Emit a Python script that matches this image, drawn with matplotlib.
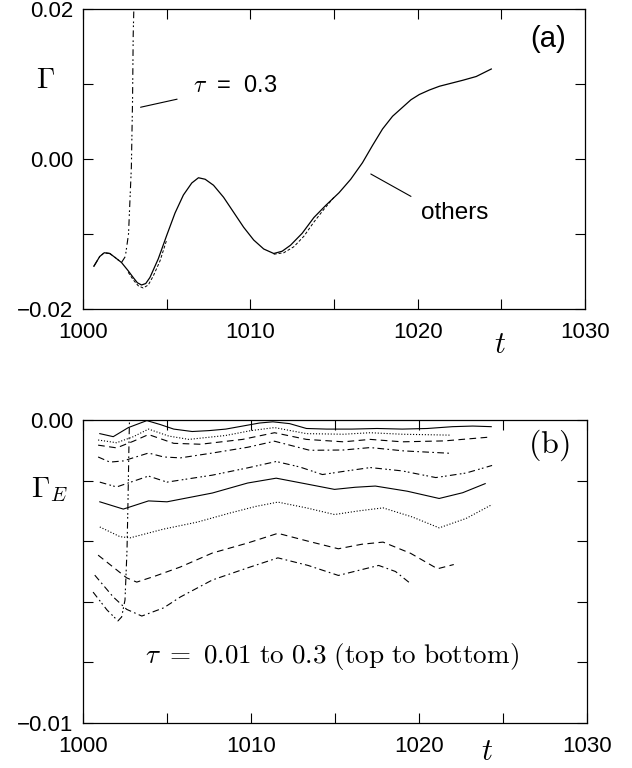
import matplotlib
matplotlib.use("Agg")
import matplotlib.pyplot as plt

plt.rcParams['font.family'] = ['Liberation Sans', 'DejaVu Sans']
plt.rcParams['mathtext.fontset'] = 'cm'

# ---------------- Panel (a) data ----------------
a_main_t = [1000.65, 1001.0, 1001.27, 1001.6, 1001.9, 1002.3, 1002.7, 1003.0, 1003.25, 1003.5,
            1003.75, 1004.0, 1004.5, 1005.0, 1005.5, 1006.0, 1006.5, 1006.9, 1007.3, 1007.8,
            1008.4, 1009.0, 1009.6, 1010.2, 1010.8, 1011.4, 1011.9, 1012.4, 1013.1, 1013.8,
            1014.5, 1015.3, 1016.0, 1016.7, 1017.3, 1017.9, 1018.5, 1019.1, 1019.6, 1020.1,
            1020.7, 1021.3, 1022.0, 1022.7, 1023.5, 1024.4]
a_main_g = [-0.0143, -0.0130, -0.0125, -0.0126, -0.0131, -0.0138, -0.0149, -0.0158, -0.0165, -0.0168,
            -0.0166, -0.0158, -0.0133, -0.0102, -0.0072, -0.0048, -0.0032, -0.0025, -0.0027, -0.0035,
            -0.0051, -0.0071, -0.0091, -0.0108, -0.0120, -0.0126, -0.0123, -0.0115, -0.0099, -0.0078,
            -0.0062, -0.0045, -0.0027, -0.0005, 0.0018, 0.0040, 0.0057, 0.0069, 0.0079, 0.0086,
            0.0092, 0.0097, 0.0101, 0.0105, 0.0110, 0.0120]
a_other1_t = [1002.7, 1003.0, 1003.3, 1003.6, 1003.9, 1004.2, 1004.6, 1005.0]
a_other1_g = [-0.0151, -0.0161, -0.0169, -0.0172, -0.0168, -0.0156, -0.0136, -0.0108]
a_other2_t = [1011.4, 1012.0, 1012.6, 1013.2, 1013.8, 1014.4, 1015.0]
a_other2_g = [-0.0127, -0.0125, -0.0117, -0.0103, -0.0084, -0.0067, -0.0051]
a_tau03_t = [1000.65, 1001.0, 1001.27, 1001.6, 1001.9, 1002.3, 1002.53, 1002.72, 1002.89, 1002.96,
             1003.0, 1003.06]
a_tau03_g = [-0.0143, -0.0130, -0.0125, -0.0126, -0.0131, -0.0138, -0.0130, -0.0100, -0.0011, 0.0077,
             0.0165, 0.0220]

# ---------------- Panel (b) data (tau = 0.01 ... 0.3, top to bottom) ----------------
b_t = [
    [1001.0, 1001.8, 1002.7, 1003.8, 1004.6, 1005.4, 1006.5, 1007.5, 1008.5, 1009.5, 1010.5, 1011.3,
     1012.3, 1013.3, 1014.5, 1016.0, 1017.5, 1019.0, 1020.5, 1022.0, 1023.2, 1024.3],
    [1000.9, 1002.0, 1003.0, 1003.9, 1005.1, 1006.3, 1008.5, 1010.0, 1011.4, 1013.3, 1015.5, 1017.1,
     1019.0, 1021.9],
    [1000.9, 1002.0, 1003.0, 1003.9, 1005.4, 1007.0, 1009.5, 1011.4, 1013.3, 1015.5, 1017.1, 1019.0,
     1021.5, 1024.3],
    [1000.9, 1001.6, 1002.4, 1003.9, 1004.8, 1005.8, 1007.7, 1009.8, 1011.4, 1013.5, 1015.5, 1017.1,
     1019.1, 1021.9],
    [1001.0, 1002.0, 1003.9, 1005.0, 1007.7, 1009.8, 1011.5, 1012.9, 1014.25, 1015.7, 1017.1, 1019.0,
     1021.0, 1022.8, 1024.35],
    [1001.0, 1002.4, 1003.9, 1005.0, 1007.7, 1009.8, 1011.5, 1013.2, 1014.97, 1016.2, 1017.4, 1019.3,
     1021.2, 1022.6, 1023.94],
    [1001.0, 1002.2, 1002.8, 1004.8, 1006.8, 1008.75, 1010.3, 1011.6, 1013.3, 1014.97, 1016.4, 1017.86,
     1019.6, 1021.2, 1022.8, 1024.35],
    [1000.9, 1002.6, 1003.2, 1004.3, 1005.8, 1007.7, 1009.8, 1011.6, 1013.4, 1015.2, 1016.6, 1017.86,
     1019.5, 1021.1, 1022.07],
    [1000.7, 1001.8, 1002.6, 1003.5, 1004.8, 1005.8, 1007.7, 1009.8, 1011.6, 1013.4, 1015.2, 1016.5,
     1017.6, 1018.6, 1019.5],
    [1000.6, 1001.43, 1002.08, 1002.3, 1002.5, 1002.62, 1002.68, 1002.74, 1002.78],
]
b_g = [
    [-0.00045, -0.00055, -0.00025, -0.00002, -0.00015, -0.00030, -0.00038, -0.00035, -0.00030, -0.00020,
     -0.00010, -0.00006, -0.00012, -0.00028, -0.00030, -0.00030, -0.00028, -0.00030, -0.00028, -0.00022,
     -0.00020, -0.00022],
    [-0.00066, -0.00075, -0.00055, -0.00030, -0.00053, -0.00064, -0.00051, -0.00035, -0.00025, -0.00045,
     -0.00047, -0.00042, -0.00047, -0.00050],
    [-0.00083, -0.00092, -0.00070, -0.00048, -0.00077, -0.00080, -0.00064, -0.00042, -0.00064, -0.00072,
     -0.00064, -0.00072, -0.00069, -0.00056],
    [-0.00122, -0.00139, -0.00135, -0.00109, -0.00122, -0.00125, -0.00109, -0.00090, -0.00070, -0.00100,
     -0.00099, -0.00091, -0.00102, -0.00110],
    [-0.00205, -0.00221, -0.00185, -0.00205, -0.00182, -0.00158, -0.00137, -0.00155, -0.00180, -0.00168,
     -0.00157, -0.00168, -0.00190, -0.00175, -0.00150],
    [-0.00270, -0.00294, -0.00267, -0.00270, -0.00241, -0.00208, -0.00192, -0.00210, -0.00229, -0.00222,
     -0.00218, -0.00235, -0.00259, -0.00240, -0.00210],
    [-0.00353, -0.00385, -0.00389, -0.00360, -0.00337, -0.00307, -0.00285, -0.00271, -0.00290, -0.00312,
     -0.00300, -0.00290, -0.00320, -0.00356, -0.00325, -0.00279],
    [-0.00446, -0.00521, -0.00535, -0.00515, -0.00485, -0.00439, -0.00406, -0.00374, -0.00400, -0.00425,
     -0.00410, -0.00403, -0.00440, -0.00491, -0.00477],
    [-0.00512, -0.00584, -0.00625, -0.00647, -0.00620, -0.00584, -0.00528, -0.00488, -0.00455, -0.00480,
     -0.00513, -0.00495, -0.00480, -0.00500, -0.00540],
    [-0.00568, -0.00627, -0.00663, -0.00650, -0.00594, -0.00429, -0.00264, -0.00066, 0.00030],
]
b_styles = ['-', ':', (0, (6, 4)), (0, (6, 3, 1.5, 3)), (0, (6, 3, 1.5, 2, 1.5, 3)),
            '-', ':', (0, (6, 4)), (0, (6, 3, 1.5, 3)), (0, (6, 3, 1.5, 2, 1.5, 3))]

x_ticks = [1000, 1005, 1010, 1015, 1020, 1025, 1030]
x_labels = ['1000', '', '1010', '', '1020', '', '1030']
a_yticks = [-0.02, -0.01, 0.0, 0.01, 0.02]
a_ylabels = ['\u22120.02', '', '0.00', '', '0.02']
b_yticks = [-0.01, -0.008, -0.006, -0.004, -0.002, 0.0]
b_ylabels = ['\u22120.01', '', '', '', '', '0.00']

fig = plt.figure(figsize=(6.32, 7.68), dpi=100)
axa = fig.add_axes([83/632, 1-309/768, 502/632, 300/768])
axb = fig.add_axes([83/632, 1-723/768, 504/632, 303/768])

lw = 0.9
for ax in (axa, axb):
    ax.set_xlim(1000, 1030)
    ax.set_xticks(x_ticks)
    ax.set_xticklabels(x_labels)
    ax.tick_params(direction='in', top=True, right=True, length=7, width=0.8,
                   labelsize=16, color='black')
    ax.tick_params(axis='x', pad=9)
    ax.tick_params(axis='y', pad=7)
    for s in ax.spines.values():
        s.set_linewidth(0.9)

# Panel (a)
axa.set_ylim(-0.02, 0.02)
axa.set_yticks(a_yticks)
axa.set_yticklabels(a_ylabels)
axa.plot(a_main_t, a_main_g, color='black', lw=lw)
axa.plot(a_other1_t, a_other1_g, color='black', lw=0.7, ls=(0, (3, 2)))
axa.plot(a_other2_t, a_other2_g, color='black', lw=0.7, ls=(0, (3, 2)))
axa.plot(a_tau03_t, a_tau03_g, color='black', lw=0.8, ls=(0, (6, 3, 1.5, 2, 1.5, 3)))
axa.annotate(r'$\tau$  =  0.3', xy=(1003.44, 0.0069), xytext=(1006.6, 0.0097),
             fontsize=17, va='center', ha='left',
             arrowprops=dict(arrowstyle='-', lw=0.8, color='black', shrinkA=10, shrinkB=0))
axa.annotate('others', xy=(1017.2, -0.0020), xytext=(1020.2, -0.0072),
             fontsize=17.5, va='center', ha='left',
             arrowprops=dict(arrowstyle='-', lw=0.8, color='black', shrinkA=6, shrinkB=0,
                             relpos=(0, 1)))
axa.text(1027.8, 0.0160, '(a)', fontsize=21, ha='center', va='center')
fig.text(46/632, 1-80/768, r'$\Gamma$', fontsize=21, ha='center', va='center')
fig.text(500/632, 1-345/768, r'$t$', fontsize=22, ha='center', va='center')

# Panel (b)
axb.set_ylim(-0.01, 0.0)
axb.set_yticks(b_yticks)
axb.set_yticklabels(b_ylabels)
for tt, gg, st in zip(b_t, b_g, b_styles):
    axb.plot(tt, gg, color='black', lw=0.8, ls=st)
axb.text(1014.8, -0.0078, r'$\tau\ =\ 0.01\ \mathrm{to}\ 0.3\ \mathrm{(top\ to\ bottom)}$',
         fontsize=19.5, ha='center', va='center')
axb.text(1027.7, -0.00083, r'$\mathrm{(b)}$', fontsize=23, ha='center', va='center')
fig.text(50/632, 1-490/768, r'$\Gamma_E$', fontsize=21, ha='center', va='center')
fig.text(487/632, 1-767/768, r'$t$', fontsize=22, ha='center', va='bottom')

fig.savefig('out.png', dpi=100)
